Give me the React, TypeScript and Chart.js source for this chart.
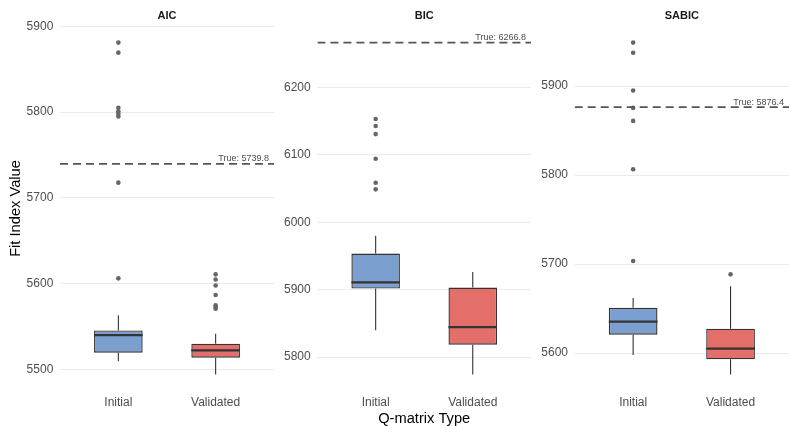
import React, { useEffect, useRef } from 'react';
import { Chart, registerables } from 'chart.js';

Chart.register(...registerables);

// ---------- data ----------
const categories = ['Initial', 'Validated'];
const panelTitles = ['AIC', 'BIC', 'SABIC'];

// box summaries: [lower whisker, Q1, median, Q3, upper whisker]
const aicInitialBox = [5509.7, 5519.7, 5540.2, 5545.7, 5563.2];
const aicValidatedBox = [5494.4, 5513.9, 5522.4, 5530.2, 5541.8];
const aicInitialOutliers = [5881, 5869.3, 5805, 5801, 5798, 5795, 5717.8, 5606.3];
const aicValidatedOutliers = [5611, 5605, 5598, 5587, 5575, 5573, 5571];

const bicInitialBox = [5839.7, 5901.7, 5911, 5953.7, 5980];
const bicValidatedBox = [5774.3, 5818.4, 5844.6, 5903.2, 5926.4];
const bicInitialOutliers = [6153.5, 6143, 6131, 6094.4, 6058.7, 6049];
const bicValidatedOutliers: number[] = [];

const sabicInitialBox = [5597.8, 5620.7, 5635.3, 5651, 5661.9];
const sabicValidatedBox = [5576, 5592.9, 5605, 5627.4, 5675];
const sabicInitialOutliers = [5949, 5937.5, 5895.2, 5875.6, 5861, 5806.6, 5703.5];
const sabicValidatedOutliers = [5688.5];

const trueValues = [5739.8, 6266.8, 5876.4];

const aicTicks = [5500, 5600, 5700, 5800, 5900];
const bicTicks = [5800, 5900, 6000, 6100, 6200];
const sabicTicks = [5600, 5700, 5800, 5900];

// ---------- styling / layout ----------
const FONT = "'Liberation Sans', Arial, Helvetica, sans-serif";
const BOX_FILLS = ['#7BA0D0', '#E46E6A'];
const DARK = '#333333';

const panelData = [
  { boxes: [aicInitialBox, aicValidatedBox], outliers: [aicInitialOutliers, aicValidatedOutliers], ticks: aicTicks },
  { boxes: [bicInitialBox, bicValidatedBox], outliers: [bicInitialOutliers, bicValidatedOutliers], ticks: bicTicks },
  { boxes: [sabicInitialBox, sabicValidatedBox], outliers: [sabicInitialOutliers, sabicValidatedOutliers], ticks: sabicTicks },
];

const panelLayout = [
  { left: 0, width: 278, yWidth: 60, padRight: 0.6 },
  { left: 278, width: 257, yWidth: 39.4, padRight: 0.2 },
  { left: 535, width: 258, yWidth: 39.7, padRight: 0.9 },
];

function makeExtras(boxes: number[][], trueValue: number) {
  return {
    id: 'boxExtras',
    beforeDatasetsDraw(chart: any) {
      const meta = chart.getDatasetMeta(1);
      const y = chart.scales.y;
      const ctx = chart.ctx;
      ctx.save();
      ctx.strokeStyle = DARK;
      ctx.lineWidth = 1.1;
      ctx.lineCap = 'butt';
      boxes.forEach((b, i) => {
        const el = meta.data[i];
        if (!el) return;
        const { x } = el.getProps(['x'], true);
        ctx.beginPath();
        ctx.moveTo(x, y.getPixelForValue(b[3]));
        ctx.lineTo(x, y.getPixelForValue(b[4]));
        ctx.moveTo(x, y.getPixelForValue(b[1]));
        ctx.lineTo(x, y.getPixelForValue(b[0]));
        ctx.stroke();
      });
      ctx.restore();
    },
    afterDatasetsDraw(chart: any) {
      const meta = chart.getDatasetMeta(1);
      const y = chart.scales.y;
      const ctx = chart.ctx;
      const area = chart.chartArea;
      ctx.save();
      ctx.strokeStyle = DARK;
      ctx.lineWidth = 2.3;
      boxes.forEach((b, i) => {
        const el = meta.data[i];
        if (!el) return;
        const { x, width } = el.getProps(['x', 'width'], true);
        const py = y.getPixelForValue(b[2]);
        ctx.beginPath();
        ctx.moveTo(x - width / 2, py);
        ctx.lineTo(x + width / 2, py);
        ctx.stroke();
      });
      // true value label
      const label = `True: ${trueValue.toFixed(1)}`;
      ctx.font = `9px ${FONT}`;
      ctx.fillStyle = '#4D4D4D';
      ctx.textAlign = 'right';
      ctx.textBaseline = 'alphabetic';
      const w = ctx.measureText(label).width;
      ctx.fillText(label, area.right - 0.1 * w, y.getPixelForValue(trueValue) - 2.5);
      ctx.restore();
    },
  };
}

export default function App() {
  const refs = [useRef<HTMLCanvasElement>(null), useRef<HTMLCanvasElement>(null), useRef<HTMLCanvasElement>(null)];

  useEffect(() => {
    const charts: Chart[] = [];
    panelData.forEach((pd, pi) => {
      const canvas = refs[pi].current;
      if (!canvas) return;
      const lay = panelLayout[pi];
      const tv = trueValues[pi];
      const all: number[] = [tv];
      pd.boxes.forEach((b) => all.push(b[0], b[4]));
      pd.outliers.forEach((o) => all.push(...o));
      const lo = Math.min(...all);
      const hi = Math.max(...all);
      const pad = (hi - lo) * 0.05;

      const chart = new Chart(canvas, {
        type: 'bar',
        data: {
          datasets: [
            {
              type: 'line',
              data: [
                { x: 0.4, y: tv },
                { x: 2.6, y: tv },
              ],
              borderColor: '#555555',
              borderWidth: 1.7,
              borderDash: [8, 5],
              pointRadius: 0,
              fill: false,
            } as any,
            {
              type: 'bar',
              data: pd.boxes.map((b, i) => ({ x: i + 1, y: [b[1], b[3]] })),
              backgroundColor: BOX_FILLS,
              borderColor: DARK,
              borderWidth: 1.4,
              borderSkipped: false,
              barPercentage: 0.5,
              categoryPercentage: 1,
            } as any,
            {
              type: 'scatter',
              data: pd.outliers.flatMap((o, i) => o.map((v) => ({ x: i + 1, y: v }))),
              backgroundColor: '#666666',
              borderWidth: 0,
              pointRadius: 2.3,
            } as any,
          ],
        },
        options: {
          responsive: false,
          animation: false,
          layout: { padding: { left: 0, right: lay.padRight, top: 0, bottom: 0 } },
          plugins: {
            legend: { display: false },
            tooltip: { enabled: false },
            title: {
              display: true,
              text: panelTitles[pi],
              fullSize: false,
              color: '#1A1A1A',
              font: { family: FONT, size: 11, weight: 'bold' },
              padding: { top: 9.6, bottom: 3.2 },
            },
          },
          scales: {
            x: {
              type: 'linear',
              min: 0.4,
              max: 2.6,
              offset: false,
              afterBuildTicks: (s: any) => {
                s.ticks = categories.map((_, i) => ({ value: i + 1 }));
              },
              afterFit: (s: any) => {
                s.height = 35;
              },
              grid: { display: false, offset: false, drawTicks: false },
              border: { display: false },
              ticks: {
                autoSkip: false,
                maxRotation: 0,
                padding: 4.3,
                color: '#4D4D4D',
                font: { family: FONT, size: 12 },
                callback: (v: any) => categories[Math.round(Number(v)) - 1] ?? '',
              },
              title: {
                display: pi === 1,
                text: 'Q-matrix Type',
                color: '#000000',
                font: { family: FONT, size: 14.67 },
                padding: { top: 0, bottom: -2 },
              },
            },
            y: {
              type: 'linear',
              min: lo - pad,
              max: hi + pad,
              afterBuildTicks: (s: any) => {
                s.ticks = pd.ticks.map((v) => ({ value: v }));
              },
              afterFit: (s: any) => {
                s.width = lay.yWidth;
              },
              grid: { color: '#EBEBEB', lineWidth: 1, drawTicks: false },
              border: { display: false },
              ticks: {
                autoSkip: false,
                padding: 6.7,
                color: '#4D4D4D',
                font: { family: FONT, size: 12 },
                callback: (v: any) => String(v),
              },
              title: {
                display: pi === 0,
                text: 'Fit Index Value',
                color: '#000000',
                font: { family: FONT, size: 14.67 },
                padding: { top: 7, bottom: 0 },
              },
            },
          },
        } as any,
        plugins: [makeExtras(pd.boxes, tv)],
      });
      charts.push(chart);
    });
    return () => charts.forEach((c) => c.destroy());
  }, []);

  return (
    <div
      style={{
        position: 'fixed',
        left: 0,
        top: 0,
        width: 790,
        height: 426,
        overflow: 'hidden',
        background: '#ffffff',
      }}
    >
      {panelLayout.map((lay, i) => (
        <canvas
          key={i}
          ref={refs[i]}
          width={lay.width}
          height={426}
          style={{ position: 'absolute', left: lay.left, top: 0, display: 'block' }}
        />
      ))}
    </div>
  );
}
